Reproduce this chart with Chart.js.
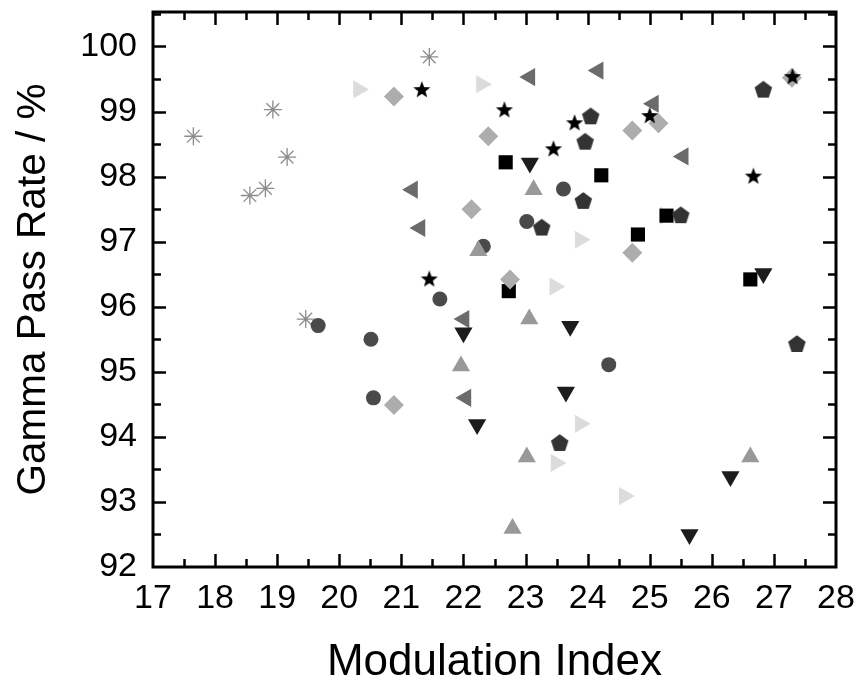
<!DOCTYPE html>
<html><head><meta charset="utf-8">
<script src="https://cdn.jsdelivr.net/npm/chart.js@4.4.1/dist/chart.umd.min.js"></script>
<style>html,body{margin:0;padding:0;background:#fff}canvas{display:block}</style>
</head><body>
<canvas id="c" width="860" height="685"></canvas>
<script>
// ---- data ----
const xAxisTitle = 'Modulation Index';
const yAxisTitle = 'Gamma Pass Rate / %';
const xRange = [17, 28];
const yRange = [92, 100.53];

const asteriskX = [17.65, 18.56, 18.81, 18.93, 19.16, 19.46, 21.45];
const asteriskY = [98.62, 97.71, 97.82, 99.03, 98.30, 95.81, 99.84];

const rightTriX = [20.31, 22.29, 23.88, 23.47, 23.88, 23.49, 24.59, 25.25];
const rightTriY = [99.34, 99.42, 97.03, 96.31, 94.20, 93.60, 93.09, 97.40];

const diamondX = [20.88, 22.40, 22.13, 24.72, 25.14, 24.72, 22.75, 20.88, 27.29];
const diamondY = [99.23, 98.62, 97.50, 98.71, 98.82, 96.83, 96.42, 94.49, 99.52];

const starX = [21.33, 21.45, 22.66, 23.45, 23.79, 25.00, 26.67, 27.30];
const starY = [99.33, 96.42, 99.02, 98.42, 98.82, 98.93, 98.00, 99.53];

const leftTriX = [21.18, 21.30, 23.07, 24.17, 25.06, 25.54, 22.01, 22.04];
const leftTriY = [97.80, 97.21, 99.53, 99.63, 99.12, 98.31, 95.81, 94.60];

const upTriX = [22.24, 23.13, 21.96, 23.06, 23.02, 22.79, 26.62];
const upTriY = [96.86, 97.80, 95.09, 95.81, 93.69, 92.59, 93.69];

const downTriX = [23.07, 26.83, 22.00, 22.22, 23.72, 23.65, 26.30, 25.64];
const downTriY = [98.21, 96.51, 95.60, 94.19, 95.70, 94.69, 93.39, 92.50];

const circleX = [22.32, 21.62, 23.61, 23.02, 19.66, 20.51, 20.55, 24.34];
const circleY = [96.93, 96.12, 97.81, 97.31, 95.71, 95.50, 94.60, 95.11];

const pentagonX = [24.05, 23.96, 23.93, 23.26, 25.50, 26.83, 23.55, 27.37];
const pentagonY = [98.92, 98.53, 97.62, 97.21, 97.40, 99.33, 93.90, 95.42];

const squareX = [22.68, 24.22, 24.81, 25.27, 22.73, 26.62];
const squareY = [98.22, 98.02, 97.11, 97.40, 96.24, 96.42];

// ---- helpers ----
function pts(xs, ys){ return xs.map((x,i)=>({x:x, y:ys[i]})); }
function polyImage(n, R, innerRatio, color){
  const s = Math.ceil(2*R + 2);
  const c = document.createElement('canvas'); c.width = s; c.height = s;
  const g = c.getContext('2d'); g.fillStyle = color; g.beginPath();
  const m = innerRatio ? 2*n : n;
  for (let i=0;i<m;i++){
    const r = (innerRatio && i%2) ? R*innerRatio : R;
    const a = -Math.PI/2 + i*2*Math.PI/m;
    const px = s/2 + r*Math.cos(a), py = s/2 + r*Math.sin(a);
    if (i) g.lineTo(px,py); else g.moveTo(px,py);
  }
  g.closePath(); g.fill();
  return c;
}
const starImg = polyImage(5, 9, 0.42, '#000000');
const pentImg = polyImage(5, 9.2, 0, '#333333');

const FONT = "'Liberation Sans', Arial, Helvetica, sans-serif";

const framePlugin = {
  id: 'frame',
  beforeDatasetsDraw(chart){
    const {ctx, chartArea:a, scales} = chart;
    const x = scales.x, y = scales.y;
    ctx.save();
    ctx.strokeStyle = '#000'; ctx.lineWidth = 2.5; ctx.lineCap = 'butt';
    ctx.beginPath();
    for (let v = xRange[0] + 0.5; v < xRange[1]; v += 0.5){
      const px = Math.round(x.getPixelForValue(v)) + 0.5;
      const L = Number.isInteger(v) ? 13 : 8;
      ctx.moveTo(px, a.bottom); ctx.lineTo(px, a.bottom - L);
      ctx.moveTo(px, a.top); ctx.lineTo(px, a.top + L);
    }
    for (let v = yRange[0] + 0.5; v < yRange[1]; v += 0.5){
      const py = Math.round(y.getPixelForValue(v)) + 0.5;
      const L = Number.isInteger(v) ? 13 : 8;
      ctx.moveTo(a.left, py); ctx.lineTo(a.left + L, py);
      ctx.moveTo(a.right, py); ctx.lineTo(a.right - L, py);
    }
    ctx.stroke();
    ctx.lineWidth = 3;
    ctx.strokeRect(a.left, a.top, a.right - a.left, a.bottom - a.top);
    ctx.restore();
  }
};

function noPad(s){ s.paddingTop = 0; s.paddingBottom = 0; s.paddingLeft = 0; s.paddingRight = 0; }

new Chart(document.getElementById('c'), {
  type: 'scatter',
  data: { datasets: [
    { label:'star', data: pts(starX, starY), pointStyle: starImg, pointRadius: 9, backgroundColor:'#000', borderWidth:0 },
    { label:'diamond', data: pts(diamondX, diamondY), pointStyle:'rectRot', pointRadius: 10, backgroundColor:'#adadad', borderWidth:0 },
    { label:'upTri', data: pts(upTriX, upTriY), pointStyle:'triangle', pointRadius: 10.5, backgroundColor:'#999999', borderWidth:0 },
    { label:'downTri', data: pts(downTriX, downTriY), pointStyle:'triangle', pointRotation:180, pointRadius: 10.5, backgroundColor:'#1c1c1c', borderWidth:0 },
    { label:'leftTri', data: pts(leftTriX, leftTriY), pointStyle:'triangle', pointRotation:-90, pointRadius: 10.5, backgroundColor:'#6b6b6b', borderWidth:0 },
    { label:'pentagon', data: pts(pentagonX, pentagonY), pointStyle: pentImg, pointRadius: 9, backgroundColor:'#333', borderWidth:0 },
    { label:'circle', data: pts(circleX, circleY), pointStyle:'circle', pointRadius: 7.5, backgroundColor:'#4a4a4a', borderWidth:0 },
    { label:'square', data: pts(squareX, squareY), pointStyle:'rect', pointRadius: 10, backgroundColor:'#000', borderWidth:0 },
    { label:'rightTri', data: pts(rightTriX, rightTriY), pointStyle:'triangle', pointRotation:90, pointRadius: 10.5, backgroundColor:'#dcdcdc', borderWidth:0 },
    { label:'asterisk', data: pts(asteriskX, asteriskY), pointStyle:'star', pointRadius: 9, backgroundColor:'#8c8c8c', borderColor:'#8c8c8c', borderWidth:1.3 }
  ]},
  options: {
    responsive:false, animation:false, devicePixelRatio:1, events:[],
    layout:{ padding:{ top:12, right:24, left:0, bottom:0 } },
    plugins:{ legend:{display:false}, tooltip:{enabled:false} },
    scales:{
      x:{ type:'linear', position:'bottom', min:xRange[0], max:xRange[1],
        grid:{ display:false, drawTicks:false }, border:{ display:false },
        ticks:{ stepSize:1, includeBounds:false, padding:11, color:'#000', font:{ family:FONT, size:34 },
          callback: v => Number.isInteger(v) ? String(v) : '' },
        title:{ display:true, text:xAxisTitle, color:'#000', font:{ family:FONT, size:44, lineHeight:1 }, padding:{top:0,bottom:0} },
        afterFit(s){ s.height = 118; noPad(s); }
      },
      y:{ type:'linear', position:'left', min:yRange[0], max:yRange[1],
        grid:{ display:false, drawTicks:false }, border:{ display:false },
        ticks:{ stepSize:1, includeBounds:false, padding:16, color:'#000', font:{ family:FONT, size:34 },
          callback: v => Number.isInteger(v) ? String(v) : '' },
        title:{ display:true, text:yAxisTitle, color:'#000', font:{ family:FONT, size:40.5, lineHeight:1 }, padding:{top:14,bottom:0} },
        afterFit(s){ s.width = 153; noPad(s); }
      }
    }
  },
  plugins:[framePlugin]
});
</script>
</body></html>
